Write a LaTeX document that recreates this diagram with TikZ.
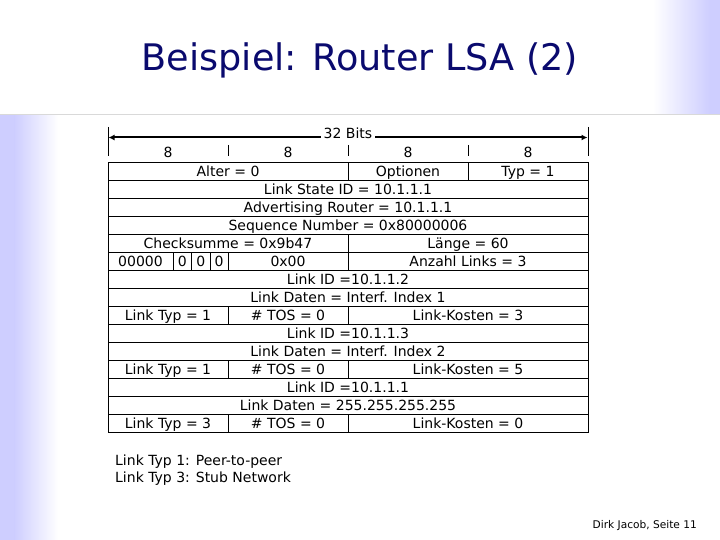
\documentclass[tikz,border=0pt]{standalone}
\usepackage{fontspec}
\setmainfont{DejaVu Sans}
\usetikzlibrary{arrows.meta}
\definecolor{lb}{RGB}{206,206,255}
\definecolor{titleblue}{RGB}{10,10,110}
\tikzset{
  cellbox/.style={draw=black, line width=0.8bp, minimum height=18bp, inner sep=0pt, outer sep=0pt,
    text height=10.2bp, text depth=0pt, font=\fontsize{14bp}{16bp}\selectfont},
  lbl/.style={inner sep=0pt, text height=10.2bp, text depth=0pt, font=\fontsize{14bp}{16bp}\selectfont},
  tick/.style={line width=0.9bp},
}
\begin{document}
\begin{tikzpicture}[x=1bp,y=-1bp]
\useasboundingbox (0,0) rectangle (720,540);
\fill[white] (0,0) rectangle (720,540);
% background gradients
\shade[left color=white, right color=lb] (653,0) rectangle (710,114);
\fill[lb] (709.5,0) rectangle (720,114);
\fill[lb] (0,115) rectangle (15,540);
\shade[left color=lb, right color=white] (14.5,115) rectangle (58,540);
\draw[black!15, line width=0.8bp] (0,114) -- (720,114);
% title
\node[anchor=base, text=titleblue, inner sep=0pt, font=\fontsize{36.6bp}{40bp}\selectfont] (title) at (360,71) {Beispiel: Router LSA (2)};
% header ticks
\coordinate (tlt) at (108,127); \coordinate (tlb) at (108,156);
\coordinate (trt) at (588,127); \coordinate (trb) at (588,156);
\draw[tick] (tlt) -- (tlb);
\draw[tick] (trt) -- (trb);
\foreach \x [count=\i] in {228,348,468}{
  \coordinate (mt\i) at (\x,145); \coordinate (mb\i) at (\x,156);
  \draw[tick] (mt\i) -- (mb\i);
}
\coordinate (al) at (108.5,137.5); \coordinate (ar) at (587.5,137.5);
\draw[line width=2bp, {Latex[length=6bp,width=6bp]}-{Latex[length=6bp,width=6bp]}] (al) -- (ar);
\node[lbl, fill=white, inner xsep=3bp, inner ysep=1bp] (bits) at (348,133) {32 Bits};
\node[lbl] (e1) at (168,152) {8};
\node[lbl] (e2) at (288,152) {8};
\node[lbl] (e3) at (408,152) {8};
\node[lbl] (e4) at (528,152) {8};
% rows
\node[cellbox, minimum width=240bp] (r1a) at (228,171) {Alter = 0};
\node[cellbox, minimum width=120bp] (r1b) at (408,171) {Optionen};
\node[cellbox, minimum width=120bp] (r1c) at (528,171) {Typ = 1};
\node[cellbox, minimum width=480bp] (r2) at (348,189) {Link State ID = 10.1.1.1};
\node[cellbox, minimum width=480bp] (r3) at (348,207) {Advertising Router = 10.1.1.1};
\node[cellbox, minimum width=480bp] (r4) at (348,225) {Sequence Number = 0x80000006};
\node[cellbox, minimum width=240bp] (r5a) at (228,243) {Checksumme = 0x9b47};
\node[cellbox, minimum width=240bp] (r5b) at (468,243) {Länge = 60};
\node[cellbox, minimum width=65bp] (r6a) at (140.5,261) {00000};
\node[cellbox, minimum width=18.5bp] (r6b) at (182.25,261) {0};
\node[cellbox, minimum width=18.5bp] (r6c) at (200.75,261) {0};
\node[cellbox, minimum width=18bp] (r6d) at (219,261) {0};
\node[cellbox, minimum width=120bp] (r6e) at (288,261) {0x00};
\node[cellbox, minimum width=240bp] (r6f) at (468,261) {Anzahl Links = 3};
\node[cellbox, minimum width=480bp] (r7) at (348,279) {Link ID =10.1.1.2};
\node[cellbox, minimum width=480bp] (r8) at (348,297) {Link Daten = Interf. Index 1};
\node[cellbox, minimum width=120bp] (r9a) at (168,315) {Link Typ = 1};
\node[cellbox, minimum width=120bp] (r9b) at (288,315) {\# TOS = 0};
\node[cellbox, minimum width=240bp] (r9c) at (468,315) {Link-Kosten = 3};
\node[cellbox, minimum width=480bp] (r10) at (348,333) {Link ID =10.1.1.3};
\node[cellbox, minimum width=480bp] (r11) at (348,351) {Link Daten = Interf. Index 2};
\node[cellbox, minimum width=120bp] (r12a) at (168,369) {Link Typ = 1};
\node[cellbox, minimum width=120bp] (r12b) at (288,369) {\# TOS = 0};
\node[cellbox, minimum width=240bp] (r12c) at (468,369) {Link-Kosten = 5};
\node[cellbox, minimum width=480bp] (r13) at (348,387) {Link ID =10.1.1.1};
\node[cellbox, minimum width=480bp] (r14) at (348,405) {Link Daten = 255.255.255.255};
\node[cellbox, minimum width=120bp] (r15a) at (168,423) {Link Typ = 3};
\node[cellbox, minimum width=120bp] (r15b) at (288,423) {\# TOS = 0};
\node[cellbox, minimum width=240bp] (r15c) at (468,423) {Link-Kosten = 0};
% legend
\node[anchor=base west, inner sep=0pt, font=\fontsize{14bp}{16bp}\selectfont] (leg1) at (115,465) {Link Typ 1: Peer-to-peer};
\node[anchor=base west, inner sep=0pt, font=\fontsize{14bp}{16bp}\selectfont] (leg2) at (115,482) {Link Typ 3: Stub Network};
% footer
\node[anchor=base east, inner sep=0pt, font=\fontsize{10.6bp}{12bp}\selectfont] (foot) at (697,528) {Dirk Jacob, Seite 11};
\end{tikzpicture}
\end{document}
